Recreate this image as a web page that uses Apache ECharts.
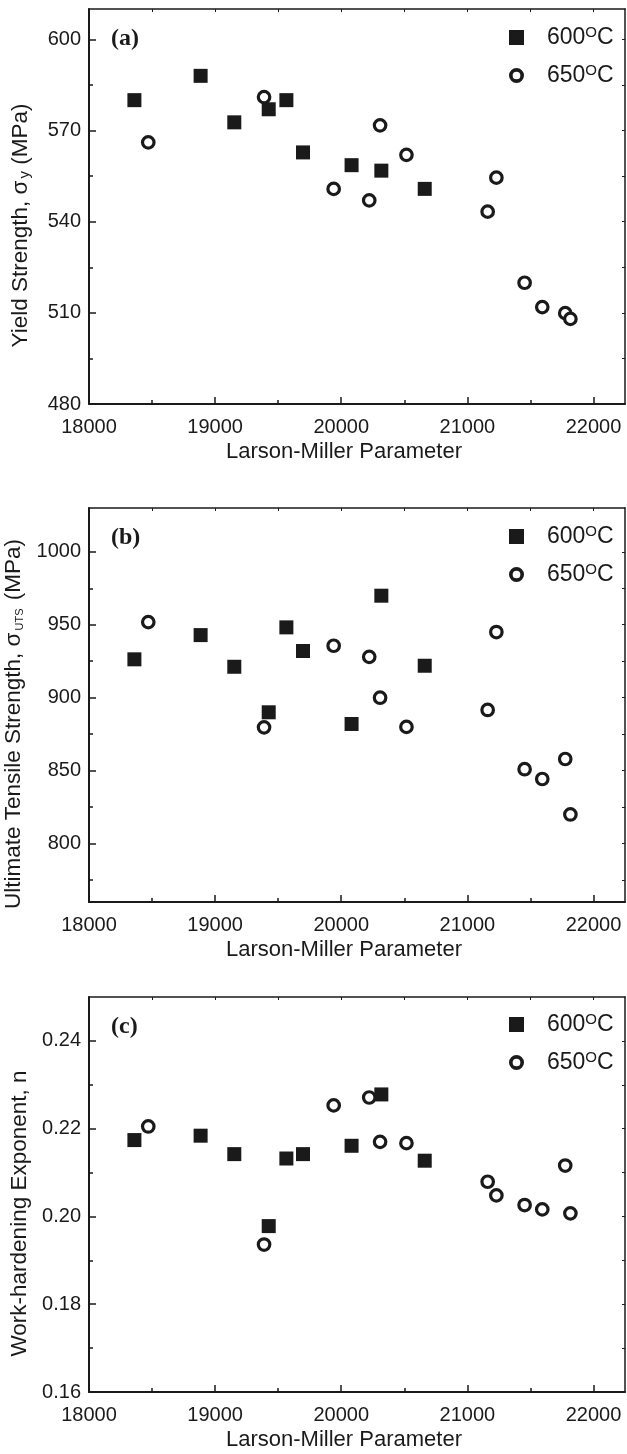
<!DOCTYPE html>
<html>
<head>
<meta charset="utf-8">
<title>Larson-Miller Parameter</title>
<style>
html, body { margin: 0; padding: 0; background: #fff; }
#chart { width: 627px; height: 1454px; }
</style>
</head>
<body>
<div id="chart"></div>
<script src="https://cdn.jsdelivr.net/npm/echarts@6/dist/echarts.min.js"></script>
<script>
// Larson-Miller parameter of each test
var lmp600 = [18360, 18885, 19152, 19425, 19565, 19697, 20082, 20318, 20662];
var lmp650 = [18470, 19388, 19940, 20222, 20308, 20517, 21161, 21230, 21454, 21594, 21776, 21817];

// (a) yield strength, MPa
var ys600 = [580, 588, 572.7, 577, 580, 562.8, 558.6, 556.8, 550.8];
var ys650 = [566.1, 581, 550.8, 547, 571.7, 562, 543.3, 554.5, 519.9, 511.9, 509.9, 508];

// (b) ultimate tensile strength, MPa
var uts600 = [926.3, 942.9, 921.2, 890, 948.2, 932, 882, 969.9, 921.9];
var uts650 = [951.8, 879.7, 935.6, 928, 900, 880, 891.6, 945, 851, 844.3, 858, 820];

// (c) work-hardening exponent
var n600 = [0.2174, 0.2184, 0.2142, 0.1978, 0.2132, 0.2142, 0.2161, 0.2278, 0.2127];
var n650 = [0.2205, 0.1936, 0.2253, 0.2271, 0.217, 0.2167, 0.2079, 0.2048, 0.2026, 0.2016, 0.2116, 0.2007];

// ticks
var xMajor = [18000, 19000, 20000, 21000, 22000];
var xMinor = [18500, 19500, 20500, 21500];
var ysMajor = [480, 510, 540, 570, 600];
var ysMinor = [495, 525, 555, 585];
var utsMajor = [800, 850, 900, 950, 1000];
var utsMinor = [775, 825, 875, 925, 975];
var nMajor = [0.16, 0.18, 0.20, 0.22, 0.24];
var nMinor = [0.17, 0.19, 0.21, 0.23];

var FONT = '"Liberation Sans", Arial, sans-serif';
var INK = '#1a1a1a';
var RING = 'path://M0,7 A7,7 0 1,1 14,7 A7,7 0 1,1 0,7 Z M3.4,7 A3.6,3.6 0 1,0 10.6,7 A3.6,3.6 0 1,0 3.4,7 Z';

var panels = [
  { tag: '(a)', top: 9, height: 395, min: 480, max: 610, major: ysMajor, minor: ysMinor,
    name: 'Yield Strength, σ{sub|y} (MPa)', y600: ys600, y650: ys650, legendTop: 20,
    fmt: function (v) { return String(v); } },
  { tag: '(b)', top: 508, height: 394, min: 760, max: 1030, major: utsMajor, minor: utsMinor,
    name: 'Ultimate Tensile Strength, σ{subs|UTS} (MPa)', y600: uts600, y650: uts650, legendTop: 519,
    fmt: function (v) { return String(v); } },
  { tag: '(c)', top: 997, height: 395, min: 0.16, max: 0.25, major: nMajor, minor: nMinor,
    name: 'Work-hardening Exponent, n', y600: n600, y650: n650, legendTop: 1007,
    fmt: function (v) { return v.toFixed(2); } }
];

function pairs(xs, ys) {
  return xs.map(function (x, i) { return [x, ys[i]]; });
}

var option = {
  backgroundColor: '#fff',
  animation: false,
  grid: [], xAxis: [], yAxis: [], series: [], legend: [], graphic: []
};

panels.forEach(function (p, k) {
  option.grid.push({ left: 89, right: 2, top: p.top, height: p.height, containLabel: false, outerBoundsMode: 'none' });

  var xb = option.xAxis.length;
  // bottom axis with labels
  option.xAxis.push({
    type: 'value', gridIndex: k, position: 'bottom', min: 18000, max: 22250,
    name: 'Larson-Miller Parameter', nameLocation: 'middle', nameGap: 37,
    nameTextStyle: { fontFamily: FONT, fontSize: 22, color: INK, padding: [0, 26, 0, 0] },
    axisLine: { onZero: false, lineStyle: { color: INK, width: 2 } },
    axisTick: { inside: true, length: 7, customValues: xMajor, lineStyle: { color: INK, width: 1.5 } },
    axisLabel: { customValues: xMajor, margin: 13, fontFamily: FONT, fontSize: 20, color: INK,
      formatter: function (v) { return String(v); } },
    splitLine: { show: false }
  });
  // bottom minor ticks
  option.xAxis.push({
    type: 'value', gridIndex: k, position: 'bottom', min: 18000, max: 22250,
    axisLine: { show: false },
    axisTick: { inside: true, length: 4, customValues: xMinor, lineStyle: { color: INK, width: 1.5 } },
    axisLabel: { show: false }, splitLine: { show: false }
  });
  // top frame
  option.xAxis.push({
    type: 'value', gridIndex: k, position: 'top', min: 18000, max: 22250,
    axisLine: { onZero: false, lineStyle: { color: INK, width: 1.5 } },
    axisTick: { inside: true, length: 3, customValues: xMajor.concat(xMinor), lineStyle: { color: INK, width: 1 } },
    axisLabel: { show: false }, splitLine: { show: false }
  });

  var yb = option.yAxis.length;
  option.yAxis.push({
    type: 'value', gridIndex: k, position: 'left', min: p.min, max: p.max,
    name: p.name, nameLocation: 'middle', nameGap: 57,
    nameTextStyle: {
      fontFamily: FONT, fontSize: 22.5, color: INK, padding: [0, 38, 0, 0],
      rich: {
        sub: { fontFamily: FONT, fontSize: 15, color: INK, verticalAlign: 'bottom', padding: [8, 0, 0, 2] },
        subs: { fontFamily: FONT, fontSize: 11, color: INK, verticalAlign: 'bottom', padding: [10, 2, 0, 2] }
      }
    },
    axisLine: { onZero: false, lineStyle: { color: INK, width: 2 } },
    axisTick: { inside: true, length: 7, customValues: p.major, lineStyle: { color: INK, width: 1.5 } },
    axisLabel: { customValues: p.major, margin: 8, fontFamily: FONT, fontSize: 20, color: INK, formatter: p.fmt },
    splitLine: { show: false }
  });
  option.yAxis.push({
    type: 'value', gridIndex: k, position: 'left', min: p.min, max: p.max,
    axisLine: { show: false },
    axisTick: { inside: true, length: 4, customValues: p.minor, lineStyle: { color: INK, width: 1.5 } },
    axisLabel: { show: false }, splitLine: { show: false }
  });
  option.yAxis.push({
    type: 'value', gridIndex: k, position: 'right', min: p.min, max: p.max,
    axisLine: { onZero: false, lineStyle: { color: INK, width: 1.5 } },
    axisTick: { inside: true, length: 3, customValues: p.major.concat(p.minor), lineStyle: { color: INK, width: 1 } },
    axisLabel: { show: false }, splitLine: { show: false }
  });

  option.series.push({
    name: '600°C', type: 'scatter', xAxisIndex: xb, yAxisIndex: yb,
    symbol: 'rect', symbolSize: 14, itemStyle: { color: INK, opacity: 1 },
    data: pairs(lmp600, p.y600)
  });
  option.series.push({
    name: '650°C', type: 'scatter', xAxisIndex: xb, yAxisIndex: yb,
    symbol: 'circle', symbolSize: 11.5,
    itemStyle: { color: '#fff', borderColor: INK, borderWidth: 3.2, opacity: 1 },
    data: pairs(lmp650, p.y650)
  });

  option.legend.push({
    orient: 'vertical', left: 504, top: p.legendTop, itemWidth: 15, itemHeight: 15, itemGap: 14,
    selectedMode: false,
    data: [
      { name: '600°C', icon: 'rect', itemStyle: { color: INK, borderWidth: 0 } },
      { name: '650°C', icon: RING, itemStyle: { color: INK, borderWidth: 0 } }
    ],
    formatter: function (name) { return name.replace('°', '{sup|O}'); },
    textStyle: {
      fontFamily: FONT, fontSize: 23, color: INK, padding: [0, 0, 0, 18],
      rich: { sup: { fontFamily: FONT, fontSize: 15, color: INK, verticalAlign: 'top', padding: [0, 0, 10, 0] } }
    }
  });

  option.graphic.push({
    type: 'text', left: 111, top: p.top + 18,
    style: { text: p.tag, font: 'bold 24px "Liberation Serif", "Times New Roman", serif', fill: INK }
  });
});

var chart = echarts.init(document.getElementById('chart'), null, { renderer: 'canvas' });
chart.setOption(option);
</script>
</body>
</html>
